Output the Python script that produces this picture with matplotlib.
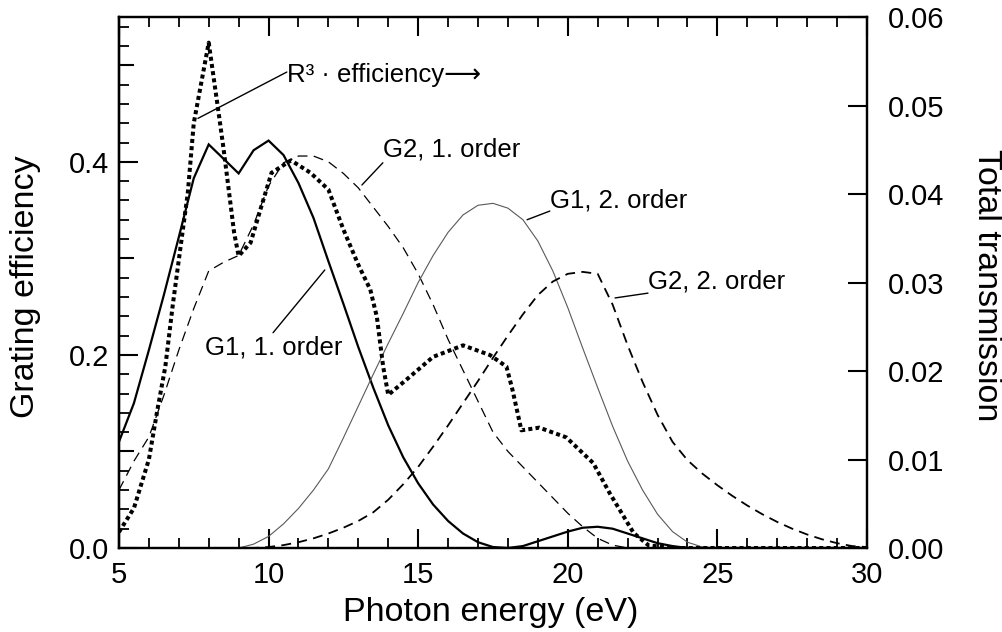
import matplotlib
matplotlib.use("Agg")
import matplotlib.pyplot as plt

plt.rcParams['font.family'] = ['Liberation Sans', 'DejaVu Sans']

# photon energy grid (eV) shared by the four grating curves
energy = [5.0, 5.5, 6.0, 6.5, 7.0, 7.5, 8.0, 8.5, 9.0, 9.5,
          10.0, 10.5, 11.0, 11.5, 12.0, 12.5, 13.0, 13.5, 14.0, 14.5,
          15.0, 15.5, 16.0, 16.5, 17.0, 17.5, 18.0, 18.5, 19.0, 19.5,
          20.0, 20.5, 21.0, 21.5, 22.0, 22.5, 23.0, 23.5, 24.0, 24.5,
          25.0, 25.5, 26.0, 26.5, 27.0, 27.5, 28.0, 28.5, 29.0, 29.5, 30.0]

g1_first = [0.110, 0.150, 0.205, 0.262, 0.322, 0.383, 0.418, 0.403, 0.388, 0.412,
            0.422, 0.407, 0.378, 0.342, 0.297, 0.253, 0.208, 0.166, 0.127, 0.094,
            0.067, 0.045, 0.028, 0.015, 0.006, 0.001, 0.000, 0.002, 0.007, 0.012,
            0.017, 0.021, 0.022, 0.020, 0.015, 0.010, 0.005, 0.002, 0.000, 0.000,
            0.000, 0.000, 0.000, 0.000, 0.000, 0.000, 0.000, 0.000, 0.000, 0.000, 0.000]

g2_first = [0.060, 0.090, 0.115, 0.158, 0.205, 0.248, 0.287, 0.296, 0.303, 0.335,
            0.375, 0.399, 0.406, 0.406, 0.400, 0.388, 0.373, 0.353, 0.333, 0.311,
            0.284, 0.252, 0.216, 0.184, 0.152, 0.120, 0.100, 0.084, 0.068, 0.052,
            0.036, 0.022, 0.010, 0.003, 0.000, 0.000, 0.000, 0.000, 0.000, 0.000,
            0.000, 0.000, 0.000, 0.000, 0.000, 0.000, 0.000, 0.000, 0.000, 0.000, 0.000]

g1_second = [0.000, 0.000, 0.000, 0.000, 0.000, 0.000, 0.000, 0.000, 0.000, 0.004,
             0.012, 0.025, 0.041, 0.060, 0.082, 0.114, 0.147, 0.180, 0.212, 0.243,
             0.275, 0.303, 0.327, 0.345, 0.355, 0.357, 0.352, 0.340, 0.318, 0.287,
             0.249, 0.207, 0.166, 0.126, 0.090, 0.060, 0.035, 0.017, 0.006, 0.001,
             0.000, 0.000, 0.000, 0.000, 0.000, 0.000, 0.000, 0.000, 0.000, 0.000, 0.000]

g2_second = [0.000, 0.000, 0.000, 0.000, 0.000, 0.000, 0.000, 0.000, 0.000, 0.000,
             0.001, 0.003, 0.006, 0.010, 0.015, 0.021, 0.028, 0.037, 0.050, 0.066,
             0.084, 0.105, 0.127, 0.150, 0.173, 0.197, 0.220, 0.242, 0.262, 0.276,
             0.284, 0.286, 0.284, 0.252, 0.210, 0.172, 0.138, 0.110, 0.091, 0.077,
             0.065, 0.054, 0.044, 0.035, 0.027, 0.020, 0.014, 0.009, 0.005, 0.002, 0.001]

# R^3 * efficiency, total transmission (right axis)
r3_energy = [5.0, 5.5, 6.0, 6.3, 6.55, 6.8, 7.3, 7.5, 8.0, 8.35, 8.5, 8.85, 9.0,
             9.4, 9.75, 10.1, 10.75, 11.4, 12.0, 12.5, 13.0, 13.4, 13.62, 13.83,
             14.0, 14.6, 15.5, 16.5, 17.4, 17.95, 18.15, 18.45, 19.05, 19.95,
             20.85, 21.4, 22.2, 22.7, 23.5, 30.0]
r3_trans = [0.0018, 0.0045, 0.0100, 0.0159, 0.0205, 0.0275, 0.0401, 0.0480, 0.0571,
            0.0487, 0.0450, 0.0356, 0.0330, 0.0345, 0.0385, 0.0424, 0.0438, 0.0424,
            0.0405, 0.0360, 0.0320, 0.0292, 0.0261, 0.0205, 0.0173, 0.0190, 0.0216,
            0.0229, 0.0218, 0.0205, 0.0179, 0.0133, 0.0136, 0.0125, 0.0096, 0.0062,
            0.0017, 0.0003, 0.0000, 0.0000]

fig = plt.figure(figsize=(10.03, 6.32), dpi=100)
ax = fig.add_axes([0.1186, 0.1329, 0.7458, 0.8402])
ax2 = ax.twinx()

ax.plot(energy, g1_first, color='black', lw=1.6, solid_joinstyle='miter')
ax.plot(energy, g2_first, color='black', lw=0.9, dashes=(8, 5))
ax.plot(energy, g1_second, color='0.35', lw=0.8)
ax.plot(energy, g2_second, color='black', lw=1.3, dashes=(5.5, 3.5))
ax2.plot(r3_energy, r3_trans, color='black', lw=2.9, dashes=(1, 0.8),
         dash_capstyle='butt')

ax.set_xlim(5, 30)
ax.set_ylim(0, 0.55)
ax2.set_ylim(0, 0.06)

ax.set_xticks([5, 10, 15, 20, 25, 30])
ax.set_xticks(range(5, 31), minor=True)
ax.set_yticks([0.0, 0.2, 0.4])
ax.set_yticklabels(['0.0', '0.2', '0.4'])
ax.set_yticks([0.02 * i for i in range(28) if i % 5 != 0], minor=True)
ax2.set_yticks([0.0, 0.01, 0.02, 0.03, 0.04, 0.05, 0.06])
ax2.set_yticklabels(['0.00', '0.01', '0.02', '0.03', '0.04', '0.05', '0.06'])

ax.tick_params(axis='both', which='major', direction='in', width=1.5,
               labelsize=21, top=True)
ax.tick_params(axis='x', which='major', length=14, pad=9)
ax.tick_params(axis='x', which='minor', direction='in', length=7, width=1.3, top=True)
ax.tick_params(axis='y', which='major', length=14, pad=7, right=False)
ax.tick_params(axis='y', which='minor', direction='in', length=7, width=1.3, right=False)
ax2.tick_params(axis='y', direction='in', length=14, width=1.5, labelsize=21, pad=15)

# medium ticks at the odd tenths on the left axis
sec = ax.secondary_yaxis('left')
sec.set_yticks([0.1, 0.3, 0.5])
sec.tick_params(direction='in', length=11, width=1.5, labelleft=False)
sec.spines['left'].set_linewidth(1.6)

for a in (ax, ax2):
    for s in a.spines.values():
        s.set_linewidth(1.6)

fig.text(26 / 1003, 1 - 287 / 632, 'Grating efficiency', rotation=90,
         ha='center', va='center', fontsize=24.5)
fig.text(987 / 1003, 1 - 285 / 632, 'Total transmission', rotation=270,
         ha='center', va='center', fontsize=24.5)
fig.text(491 / 1003, 1 - 612 / 632, 'Photon energy (eV)',
         ha='center', va='center', fontsize=24.5)

# curve labels with leader lines
labels = [
    ('R³ · efficiency⟶', (7.64, 0.445), (10.61, 0.493), (10.61, 0.483)),
    ('G2, 1. order', (13.12, 0.376), (13.82, 0.399), (13.82, 0.405)),
    ('G1, 2. order', (18.64, 0.340), (19.40, 0.349), (19.40, 0.353)),
    ('G2, 2. order', (21.58, 0.259), (22.68, 0.264), (22.68, 0.269)),
    ('G1, 1. order', (11.88, 0.288), (10.15, 0.223), (7.87, 0.200)),
]
for text, start, end, pos in labels:
    ax.annotate('', xy=start, xytext=end,
                arrowprops=dict(arrowstyle='-', lw=1.0, color='black',
                                shrinkA=0, shrinkB=0))
    ax.text(pos[0], pos[1], text, fontsize=18.5, ha='left', va='baseline')

fig.savefig('out.png', dpi=100)
